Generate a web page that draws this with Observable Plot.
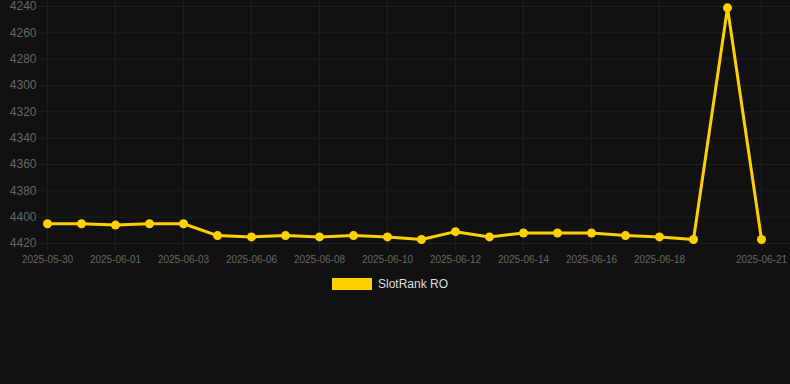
<!DOCTYPE html>
<html><head><meta charset="utf-8">
<script src="https://cdn.jsdelivr.net/npm/d3@7"></script>
<script src="https://cdn.jsdelivr.net/npm/@observablehq/plot@0.6"></script>
<style>
html,body{margin:0;background:#111;width:790px;height:384px;overflow:hidden;font-family:"Liberation Sans",Arial,sans-serif}
#legend{display:flex;align-items:center;height:12px;margin-top:8px;padding-left:332px;color:#ddd;font-size:12px}
#legend .sw{display:inline-block;width:40px;height:12px;background:#FFD000;margin-right:6px}
</style></head><body>
<div id="chart"></div>
<div id="legend"><span class="sw"></span><span>SlotRank RO</span></div>
<script>
const dates = ["2025-05-30","2025-05-31","2025-06-01","2025-06-02","2025-06-03","2025-06-04","2025-06-06","2025-06-07","2025-06-08","2025-06-09","2025-06-10","2025-06-11","2025-06-12","2025-06-13","2025-06-14","2025-06-15","2025-06-16","2025-06-17","2025-06-18","2025-06-19","2025-06-20","2025-06-21"];
const ranks = [4405,4405,4406,4405,4405,4414,4415,4414,4415,4414,4415,4417,4411,4415,4412,4412,4412,4414,4415,4417,4241,4417];
const xTickLabels = ["2025-05-30","2025-06-01","2025-06-03","2025-06-06","2025-06-08","2025-06-10","2025-06-12","2025-06-14","2025-06-16","2025-06-18","2025-06-21"];
const yTickLabels = [4240,4260,4280,4300,4320,4340,4360,4380,4400,4420];
const seriesName = "SlotRank RO";

const data = dates.map((d, i) => ({date: d, rank: ranks[i]}));
const grid = "#1e1e1e";
const yellow = "#FFD000";

const chart = Plot.plot({
  width: 790,
  height: 270,
  marginLeft: 46,
  marginRight: 29,
  marginTop: 6,
  marginBottom: 27,
  style: {background: "#111", color: "#666", fontFamily: "'Liberation Sans', Arial, sans-serif"},
  x: {type: "point", domain: dates, padding: 0},
  y: {domain: [4240, 4420], reverse: true},
  marks: [
    Plot.ruleY(yTickLabels, {stroke: grid, insetLeft: -8, insetRight: -29}),
    Plot.ruleX(xTickLabels, {stroke: grid, insetBottom: -8, insetTop: -6}),
    Plot.axisY({ticks: yTickLabels, tickSize: 0, tickPadding: 10, fontSize: 12, label: null, tickFormat: d => String(d)}),
    Plot.axisX({ticks: xTickLabels, tickSize: 0, tickPadding: 12, fontSize: 10, label: null}),
    Plot.lineY(data, {x: "date", y: "rank", stroke: yellow, strokeWidth: 3}),
    Plot.dot(data, {x: "date", y: "rank", r: 4.5, fill: yellow})
  ]
});
document.getElementById("chart").appendChild(chart);
document.querySelector("#legend span:last-child").textContent = seriesName;
</script>
</body></html>
